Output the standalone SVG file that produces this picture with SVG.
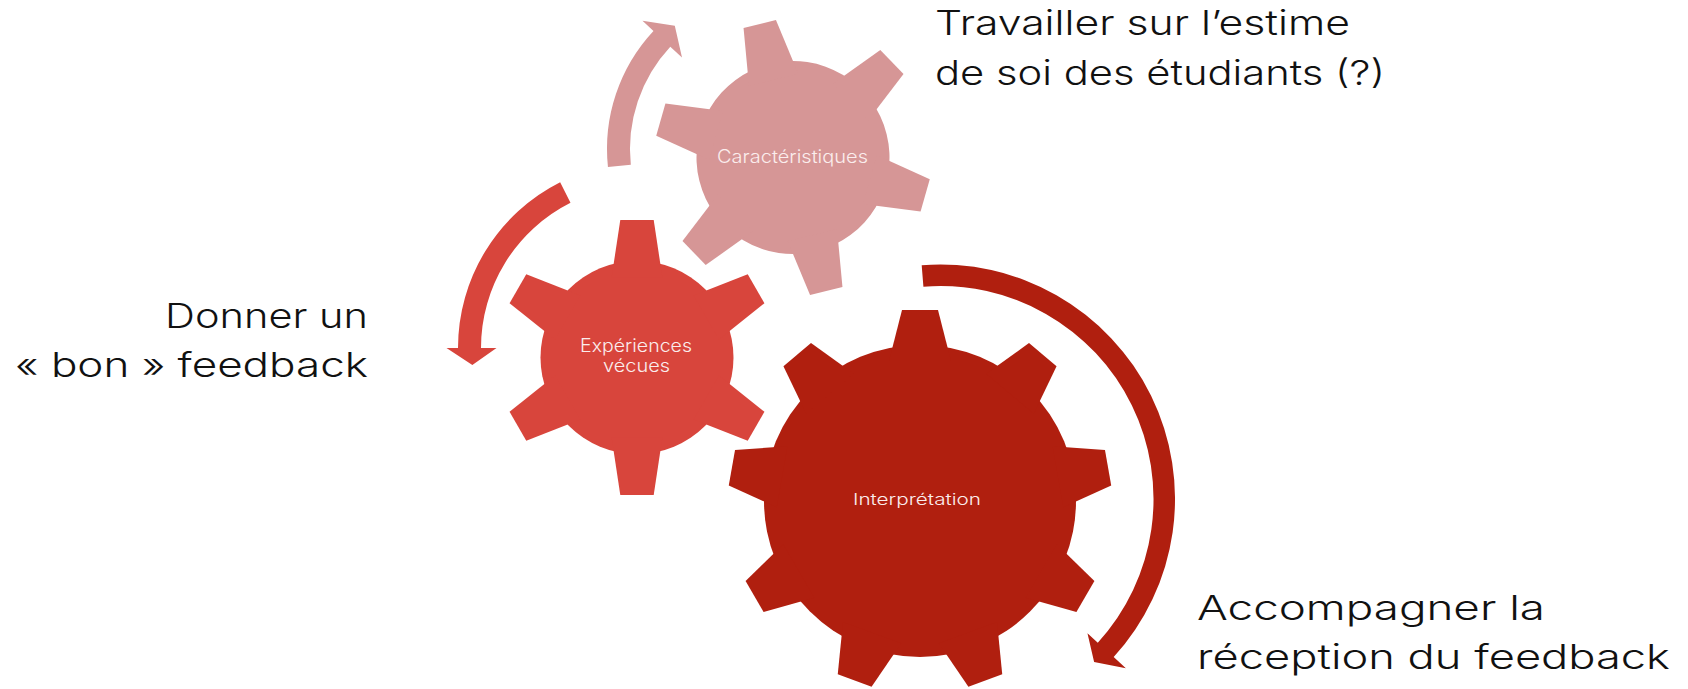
<svg xmlns="http://www.w3.org/2000/svg" xmlns:xlink="http://www.w3.org/1999/xlink" width="1688" height="689" viewBox="0 0 1688 689">
<style>
.lbl{font-family:Inter,"DejaVu Sans","Liberation Sans",sans-serif;font-weight:300;font-size:34px;fill:#111}
.glbl{font-family:Inter,"DejaVu Sans","Liberation Sans",sans-serif;font-weight:300;fill:#FBEDED}
.pink{fill:#D69696}
.red{fill:#D8453C}
.dark{fill:#B01F0F}
</style>
<defs>
<polygon id="tooth9" points="-31,-140 -18,-191 18,-191 31,-140"/>
<polygon id="tooth6" points="-25.4,-80 -16.7,-137.5 16.7,-137.5 25.4,-80"/>
</defs>
<rect width="1688" height="689" fill="#fff"/>
<g id="connectors">
<path class="pink" d="M607.95,167.08 A173,173 0 0 1 653.47,31.01 L642.5,20.8 L674.8,25.8 L682,57.6 L670.29,46.7 A150,150 0 0 0 630.82,164.68 Z"/>
<path class="red" d="M560.15,182.27 A185.5,185.5 0 0 0 458,348 L446.5,348 L472.35,365.08 L496.5,348 L481,348 A162.5,162.5 0 0 1 570.49,202.82 Z"/>
<path class="dark" d="M921.69,265.25 A234.5,234.5 0 0 1 1113.68,657.12 L1125.86,668.25 L1094.12,662.03 L1087.46,633.19 L1097.8,642.63 A213,213 0 0 0 923.42,286.68 Z"/>
</g>
<g id="gear-interpretation" class="dark">
<g transform="translate(920,501)">
<circle r="156"/>
<use xlink:href="#tooth9"/>
<use xlink:href="#tooth9" transform="rotate(40)"/>
<use xlink:href="#tooth9" transform="rotate(80)"/>
<use xlink:href="#tooth9" transform="rotate(120)"/>
<use xlink:href="#tooth9" transform="rotate(160)"/>
<use xlink:href="#tooth9" transform="rotate(200)"/>
<use xlink:href="#tooth9" transform="rotate(240)"/>
<use xlink:href="#tooth9" transform="rotate(280)"/>
<use xlink:href="#tooth9" transform="rotate(320)"/>
</g>
<text class="glbl" x="853" y="505" font-size="16" textLength="128" lengthAdjust="spacingAndGlyphs">Interprétation</text>
</g>
<g id="gear-experiences" class="red">
<g transform="translate(637,357.5)">
<circle r="96.5"/>
<use xlink:href="#tooth6"/>
<use xlink:href="#tooth6" transform="rotate(60)"/>
<use xlink:href="#tooth6" transform="rotate(120)"/>
<use xlink:href="#tooth6" transform="rotate(180)"/>
<use xlink:href="#tooth6" transform="rotate(240)"/>
<use xlink:href="#tooth6" transform="rotate(300)"/>
</g>
<text class="glbl" x="580" y="352" font-size="18" textLength="112" lengthAdjust="spacingAndGlyphs">Expériences</text>
<text class="glbl" x="603" y="372" font-size="18" textLength="67" lengthAdjust="spacingAndGlyphs">vécues</text>
</g>
<g id="gear-caracteristiques" class="pink">
<g transform="translate(793,157.5) rotate(-14)">
<circle r="96.5"/>
<use xlink:href="#tooth6"/>
<use xlink:href="#tooth6" transform="rotate(60)"/>
<use xlink:href="#tooth6" transform="rotate(120)"/>
<use xlink:href="#tooth6" transform="rotate(180)"/>
<use xlink:href="#tooth6" transform="rotate(240)"/>
<use xlink:href="#tooth6" transform="rotate(300)"/>
</g>
<text class="glbl" x="717" y="163" font-size="18" textLength="151" lengthAdjust="spacingAndGlyphs">Caractéristiques</text>
</g>
<g id="label-estime">
<text class="lbl" x="935" y="35" textLength="415" lengthAdjust="spacingAndGlyphs">Travailler sur l’estime</text>
<text class="lbl" x="935" y="85" textLength="450" lengthAdjust="spacingAndGlyphs">de soi des étudiants (?)</text>
</g>
<g id="label-feedback">
<text class="lbl" x="165" y="328" textLength="203" lengthAdjust="spacingAndGlyphs">Donner un</text>
<text class="lbl" x="15" y="377" textLength="353" lengthAdjust="spacingAndGlyphs">« bon » feedback</text>
</g>
<g id="label-accompagner">
<text class="lbl" x="1197" y="620" textLength="348" lengthAdjust="spacingAndGlyphs">Accompagner la</text>
<text class="lbl" x="1197" y="669" textLength="473" lengthAdjust="spacingAndGlyphs">réception du feedback</text>
</g>
</svg>
